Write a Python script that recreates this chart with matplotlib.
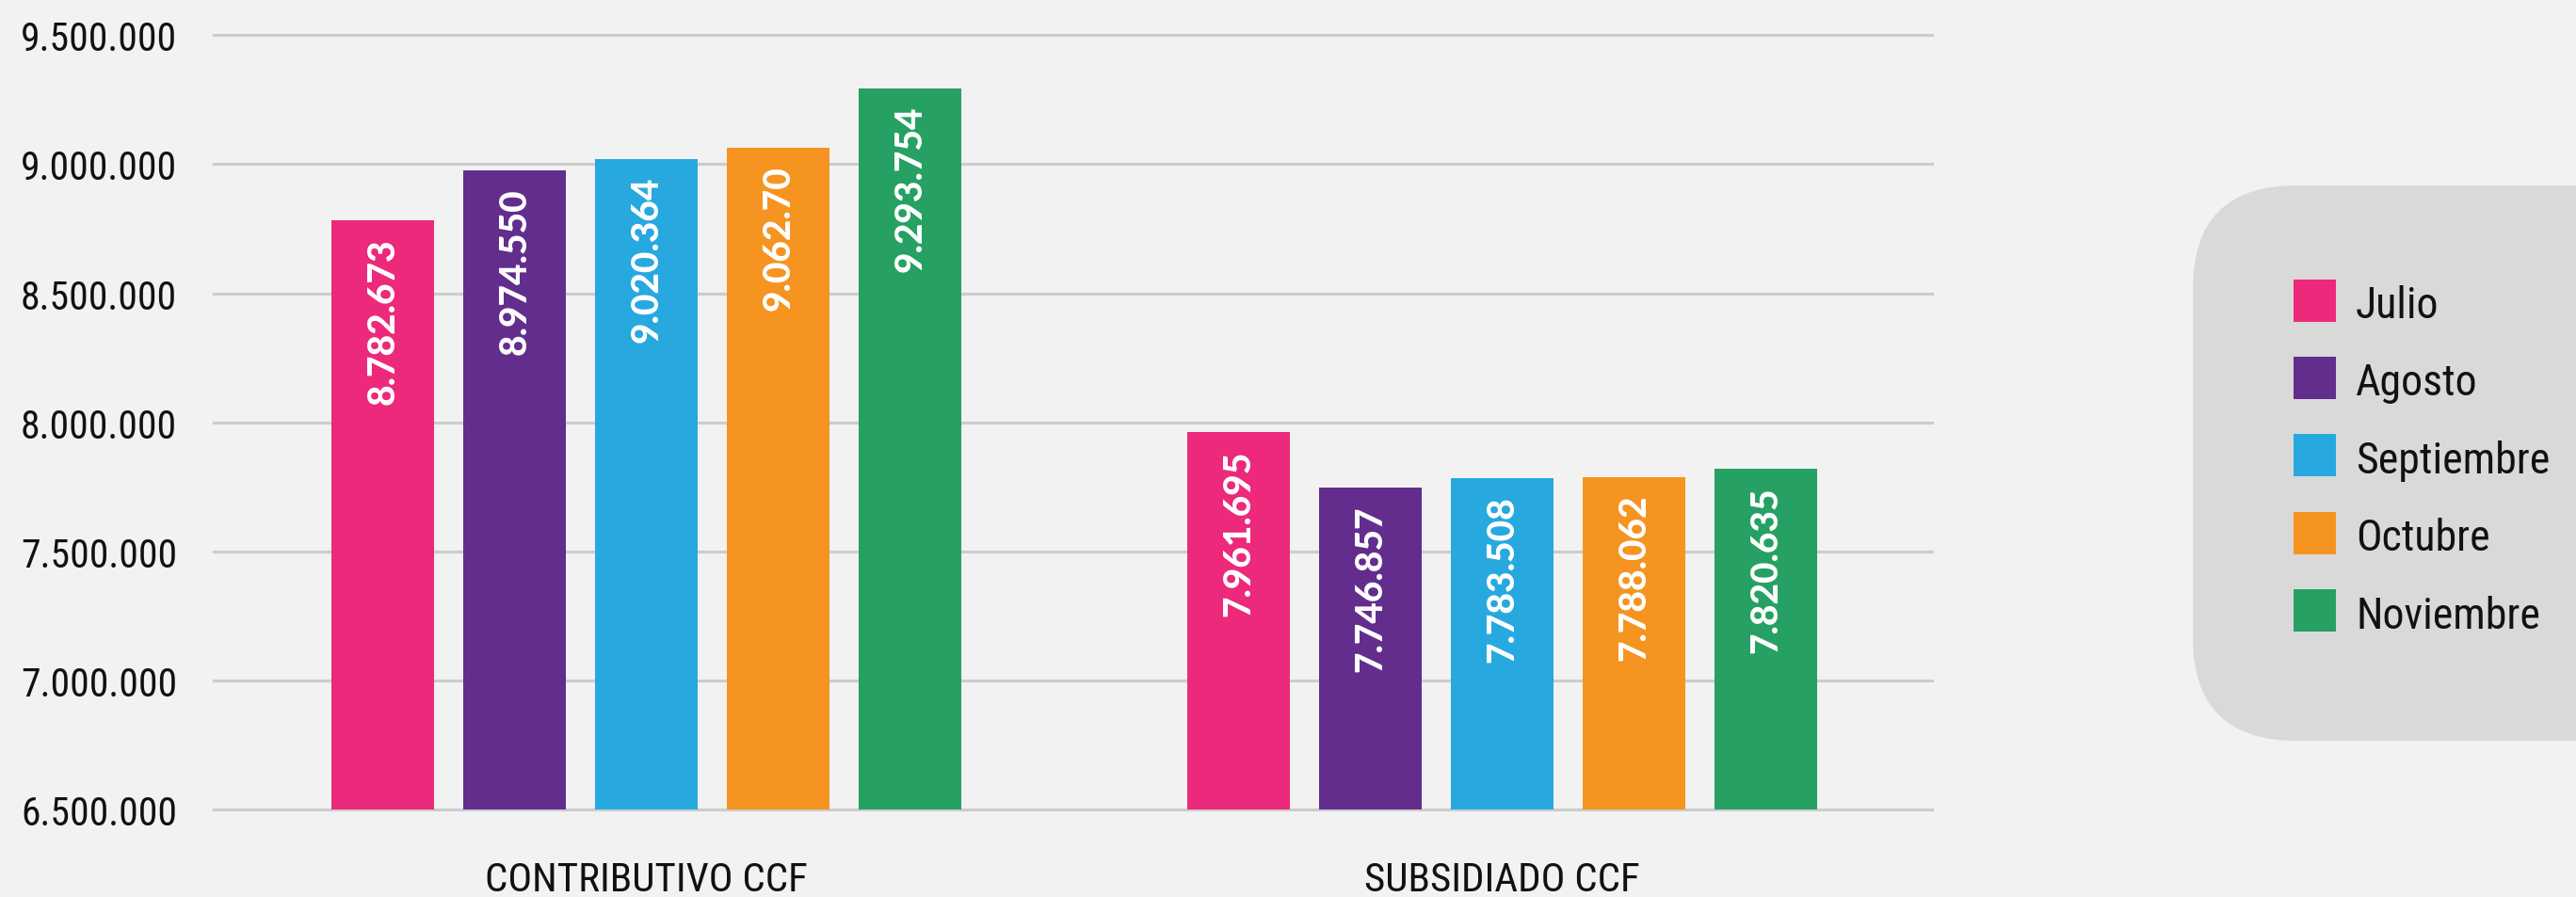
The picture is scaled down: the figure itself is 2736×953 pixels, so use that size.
"""Afiliados CCF por régimen, julio a noviembre."""

import matplotlib

matplotlib.use("Agg")
import matplotlib.pyplot as plt
import numpy as np
from matplotlib import font_manager
from matplotlib.patches import FancyBboxPatch, Rectangle
from matplotlib.ticker import FuncFormatter, MultipleLocator

GROUPS = ["CONTRIBUTIVO CCF", "SUBSIDIADO CCF"]
MONTHS = ["Julio", "Agosto", "Septiembre", "Octubre", "Noviembre"]
CONTRIBUTIVO = [8782673, 8974550, 9020364, 9062700, 9293754]
SUBSIDIADO = [7961695, 7746857, 7783508, 7788062, 7820635]
# labels as printed on the original (Octubre keeps its truncated value)
CONTRIBUTIVO_LABELS = ["8.782.673", "8.974.550", "9.020.364", "9.062.70", "9.293.754"]
SUBSIDIADO_LABELS = ["7.961.695", "7.746.857", "7.783.508", "7.788.062", "7.820.635"]
COLORS = ["#EC297B", "#632D8E", "#27A9E0", "#F59421", "#26A163"]

BG = "#F2F2F2"
W, H = 2736, 954


def _pick(*names):
    have = {f.name for f in font_manager.fontManager.ttflist}
    for n in names:
        if n in have:
            return n
    return "DejaVu Sans"


NARROW = _pick("Liberation Sans Narrow", "DejaVu Sans Condensed", "Roboto Condensed", "Liberation Sans")
HEAVY = _pick("Lato", "Montserrat", "DejaVu Sans")


def main():
    fig = plt.figure(figsize=(W / 100, H / 100), dpi=100, facecolor=BG)
    ax = fig.add_axes([227 / W, 1 - 861.3 / H, (2052 - 227) / W, (861.3 - 38.3) / H])
    ax.set_facecolor(BG)

    x = np.arange(len(GROUPS))
    step, width = 0.154, 0.12
    for i, month in enumerate(MONTHS):
        vals = [CONTRIBUTIVO[i], SUBSIDIADO[i]]
        labels = [CONTRIBUTIVO_LABELS[i], SUBSIDIADO_LABELS[i]]
        pos = x + (i - 2) * step
        ax.bar(pos, vals, width=width, color=COLORS[i], zorder=2)
        for px, v, lab in zip(pos, vals, labels):
            ax.annotate(lab, xy=(px, v), xytext=(0, -13), textcoords="offset points",
                        rotation=90, ha="center", va="top", color="white",
                        fontsize=28, fontweight="black", family=HEAVY, zorder=3)

    ax.set_xlim(-0.5057, 1.502)
    ax.set_ylim(6_500_000, 9_500_000)
    ax.yaxis.set_major_locator(MultipleLocator(500_000))
    ax.yaxis.set_major_formatter(FuncFormatter(lambda v, _: f"{v:,.0f}".replace(",", ".")))
    ax.set_xticks(x)
    ax.set_xticklabels(GROUPS)
    ax.tick_params(axis="y", length=0, pad=28, labelsize=30)
    ax.tick_params(axis="x", length=0, pad=39, labelsize=31)
    for lab in ax.get_xticklabels() + ax.get_yticklabels():
        lab.set_family(NARROW)
        lab.set_color("#111111")
    for s in ax.spines.values():
        s.set_visible(False)
    ax.grid(axis="y", color="#CCCCCC", linewidth=2.2, zorder=0)
    ax.set_axisbelow(True)
    for gl in ax.get_ygridlines():
        gl.set_clip_on(False)

    # legend panel, runs off the right edge
    box = FancyBboxPatch((2329 / 100, (H - 788) / 100), 6.0, (788 - 198) / 100,
                         boxstyle="round,pad=0,rounding_size=1.1",
                         transform=fig.dpi_scale_trans, facecolor="#D9D9D9",
                         edgecolor="none", zorder=0)
    fig.patches.append(box)
    for i, month in enumerate(MONTHS):
        cy = 320 + i * 82.4
        fig.patches.append(Rectangle((2436 / 100, (H - cy - 22.5) / 100), 0.45, 0.45,
                                     transform=fig.dpi_scale_trans, facecolor=COLORS[i],
                                     edgecolor="none", zorder=1))
        fig.text(2502 / W, 1 - (cy + 18) / H, month, fontsize=33, family=NARROW,
                 color="#111111", va="baseline", ha="left")

    fig.savefig("out.png", dpi=100, facecolor=BG)
    plt.close(fig)


if __name__ == "__main__":
    main()
